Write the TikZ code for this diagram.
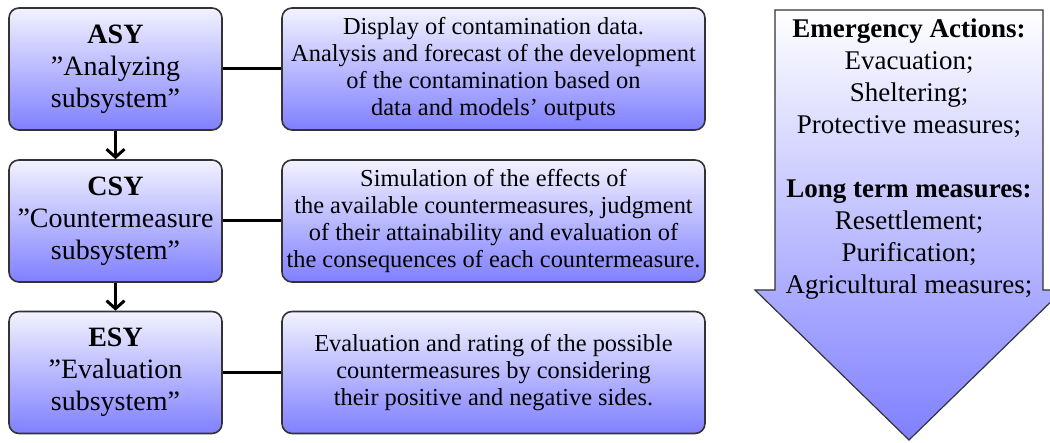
\documentclass[tikz,border=0pt]{standalone}
\usepackage{fontspec}
\setmainfont{Liberation Serif}
\usetikzlibrary{arrows.meta}
\begin{document}
\begin{tikzpicture}[x=0.5pt,y=0.5pt,
  sysbox/.style={draw=black!80,line width=0.8pt,rounded corners=5pt,
    top color=blue!5,bottom color=blue!50,minimum width=106.5pt,minimum height=61pt,
    align=center,inner sep=2pt,font=\fontsize{14}{16}\selectfont},
  descbox/.style={sysbox,minimum width=211.5pt,font=\fontsize{12.2}{13.5}\selectfont},
  link/.style={line width=1.5pt},
  flow/.style={line width=1.5pt,-{Straight Barb[length=4pt,width=9pt,line width=1.5pt]}}]
\useasboundingbox (0,0) rectangle (1050,443);
\node[sysbox] (asy) at (115.5,374) {\textbf{ASY}\\”Analyzing\\subsystem”};
\node[sysbox] (csy) at (115.5,222) {\textbf{CSY}\\”Countermeasure\\subsystem”};
\node[sysbox] (esy) at (115.5,70.5) {\textbf{ESY}\\”Evaluation\\subsystem”};
\node[descbox] (asyd) at (493.5,374) {Display of contamination data.\\Analysis and forecast of the development\\of the contamination based on\\data and models’ outputs};
\node[descbox] (csyd) at (493.5,222) {Simulation of the effects of\\the available countermeasures, judgment\\of their attainability and evaluation of\\the consequences of each countermeasure.};
\node[descbox] (esyd) at (493.5,70.5) {Evaluation and rating of the possible\\countermeasures by considering\\their positive and negative sides.};
\draw[link] (asy) -- (asyd);
\draw[link] (csy) -- (csyd);
\draw[link] (esy) -- (esyd);
\draw[flow] (asy) -- (csy);
\draw[flow] (csy) -- (esy);
\shade[draw=black!80,line width=0.6pt,top color=white,bottom color=blue!50]
  (775,433) -- (1043,433) -- (1043,153) -- (1063,153) -- (909,3) -- (755,153) -- (775,153) -- cycle;
\node[align=center,font=\fontsize{13.5}{16}\selectfont] (acts) at (909,284)
  {\textbf{Emergency Actions:}\\Evacuation;\\Sheltering;\\Protective measures;\\[16pt]
   \textbf{Long term measures:}\\Resettlement;\\Purification;\\Agricultural measures;};
\end{tikzpicture}
\end{document}
